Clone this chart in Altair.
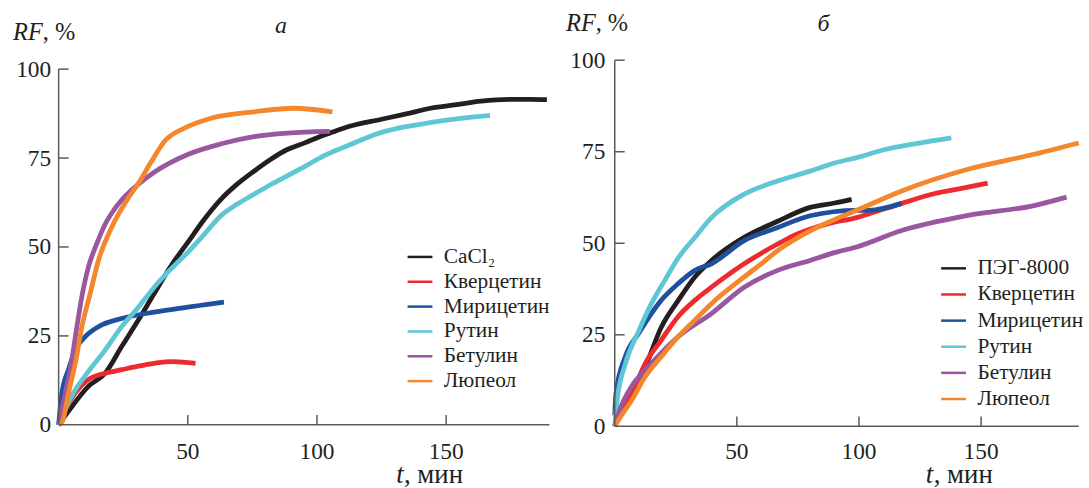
import altair as alt
import pandas as pd

FONT = "Liberation Serif"
TXT = "#231f20"
AXC = "#5a5a5a"

colors = ["#231f20", "#ec2a2f", "#1f4f9f", "#5ec6d5", "#9a56a0", "#f4862b"]

x_ticks = [50, 100, 150]
y_ticks = [0, 25, 50, 75, 100]
y_inner_ticks = [25, 50, 75, 100]

# ---------------- panel а ----------------
a_names = ["CaCl₂", "Кверцетин", "Мирицетин", "Рутин", "Бетулин", "Люпеол"]

a_cacl2_t = [0, 2.5, 5, 11.5, 18, 24.4, 30.8, 37, 43.6, 50, 56.4, 62.8, 69, 75.6, 82, 88.5, 95, 101, 106, 113, 125, 135, 144, 154, 163.5, 175, 183, 189]
a_cacl2_v = [0, 2.5, 5, 10.8, 14.5, 22, 29.4, 36.9, 44.8, 51.3, 57.8, 63.4, 67.6, 71.3, 74.6, 77.4, 79.2, 81, 82.3, 84, 85.9, 87.5, 89, 90, 91, 91.5, 91.5, 91.4]

a_querc_t = [0, 2.6, 6.4, 11.5, 18, 24.4, 30.8, 37, 43.6, 48, 53]
a_querc_v = [0, 4.3, 9, 12.7, 14.5, 15.5, 16.5, 17.3, 17.8, 17.6, 17.3]

a_myric_t = [0, 1.3, 3.8, 6.4, 10.3, 15.4, 24.4, 37, 50, 57, 64]
a_myric_v = [0, 9, 15.5, 21, 24.8, 27.6, 29.9, 31.7, 33.1, 33.8, 34.5]

a_rutin_t = [0, 5, 11.5, 18, 24.4, 30.8, 37, 43.6, 50, 56.4, 62.8, 69, 75.6, 82, 88.5, 95, 101, 113, 122, 131.5, 141, 150.7, 160, 167]
a_rutin_v = [0, 8, 15, 21, 27.6, 33, 38.7, 43.9, 48.5, 53.6, 58.8, 62, 64.8, 67.5, 70, 72.5, 75, 78.8, 81.5, 83.4, 84.6, 85.7, 86.5, 87]

a_betul_t = [0, 2.6, 5.1, 7.05, 9.2, 11.5, 14.7, 18, 21.2, 24.4, 30.8, 37, 50, 63, 75.6, 88.5, 105]
a_betul_v = [0, 9, 18.2, 27.5, 36.9, 44.3, 50.8, 56.4, 60.2, 63.2, 67.6, 71, 76, 79, 81, 82, 82.5]

a_lupeol_t = [0, 1.5, 3.8, 6.7, 9, 12.2, 15.4, 20.5, 26.3, 31.4, 35.9, 41, 48.7, 59, 75.6, 91, 106]
a_lupeol_v = [0, 1, 8.9, 18.2, 27.6, 36.9, 46.2, 55.5, 63, 68.5, 74, 79.7, 83.4, 86.2, 88, 89, 88]

# ---------------- panel б ----------------
b_names = ["ПЭГ-8000", "Кверцетин", "Мирицетин", "Рутин", "Бетулин", "Люпеол"]

b_peg_t = [0, 1.6, 7, 12.5, 19, 26, 32.8, 39.6, 53, 66.7, 80, 90, 97]
b_peg_v = [0, 2.7, 10, 16.3, 27, 34.4, 40.8, 45.3, 51.6, 56, 59.8, 61, 62]

b_querc_t = [0, 1.6, 7, 12.5, 19, 26, 32.8, 39.6, 53, 66.7, 73, 87, 99, 104, 117.5, 131, 142, 152.7]
b_querc_v = [0, 2.7, 9, 17.2, 23.5, 30, 34.4, 38, 44.4, 49.8, 52, 55.3, 57, 58, 60.9, 63.6, 65, 66.4]

b_myric_t = [0, 0.5, 4.3, 9.8, 15, 19, 26, 32.8, 39.6, 53, 66.7, 80, 99, 104, 117.5]
b_myric_v = [3, 9, 19, 25.4, 30.8, 34.4, 39, 42.6, 44.4, 50.7, 54.3, 57.5, 59, 59, 60.9]

b_rutin_t = [0, 0.95, 4.3, 9.8, 15, 20.6, 26, 32.8, 39.6, 53, 66.7, 80, 90.4, 99, 110.7, 124, 137.8]
b_rutin_v = [0, 7, 17, 26, 33.5, 40, 46, 51.6, 57, 63.4, 67, 69.7, 72, 73.4, 75.6, 77.3, 78.8]

b_betul_t = [0, 1.6, 7, 12.5, 19, 26, 39.6, 53, 66.7, 80, 90.4, 99, 117.5, 144.6, 171.7, 185]
b_betul_v = [0, 3.6, 11, 15.4, 20, 24.5, 30.8, 38, 42.6, 45.3, 47.5, 49, 53.5, 57.6, 60.3, 62.6]

b_lupeol_t = [0, 1.6, 7, 12.5, 19, 26, 32.8, 39.6, 53, 60, 66.7, 80, 90.4, 99, 117.5, 144.6, 171.7, 190]
b_lupeol_v = [0, 1.8, 7.2, 13.6, 19, 24.5, 29, 33.5, 40.8, 44.4, 48, 53.4, 56.6, 59, 64.3, 70.2, 74.3, 77.4]


def frame(names, series):
    rows = []
    for name, (ts, vs) in zip(names, series):
        for t, v in zip(ts, vs):
            rows.append({"s": name, "t": t, "v": v})
    return pd.DataFrame(rows)


a_df = frame(a_names, [(a_cacl2_t, a_cacl2_v), (a_querc_t, a_querc_v), (a_myric_t, a_myric_v),
                       (a_rutin_t, a_rutin_v), (a_betul_t, a_betul_v), (a_lupeol_t, a_lupeol_v)])
b_df = frame(b_names, [(b_peg_t, b_peg_v), (b_querc_t, b_querc_v), (b_myric_t, b_myric_v),
                       (b_rutin_t, b_rutin_v), (b_betul_t, b_betul_v), (b_lupeol_t, b_lupeol_v)])

TOP = 58.5
H = 368.5
L_X0 = 58.3
L_W = 494
R_W = 467
SPACING = 65.7
ONE = pd.DataFrame({"k": [0]})


def text_layer(txt, x, y, italic=False, size=24, align="left"):
    return alt.Chart(ONE).mark_text(
        text=txt, font=FONT, fontSize=size, fontStyle="italic" if italic else "normal",
        color=TXT, align=align, baseline="alphabetic"
    ).encode(x=alt.value(x), y=alt.value(y))


def panel(df, names, width, ydom, ylabpad, leg_x, leg_y, row_pad, texts, background=False):
    xs = alt.Scale(domain=[0, 190], nice=False, zero=False)
    ys = alt.Scale(domain=ydom, nice=False, zero=False)
    xax = alt.Axis(values=x_ticks, title=None, domain=False, ticks=False, tickSize=0,
                   grid=False, labels=False)
    yax = alt.Axis(
        values=y_ticks, title=None, domain=False, ticks=False, tickSize=0, grid=False,
        labelFont=FONT, labelFontSize=23.5, labelColor=TXT, labelPadding=ylabpad,
        labelFlush=False, labelOverlap=False, zindex=2)
    lines = alt.Chart(df).mark_line(strokeWidth=4.8, interpolate="monotone").encode(
        x=alt.X("t:Q", scale=xs, axis=xax),
        y=alt.Y("v:Q", scale=ys, axis=yax),
        color=alt.Color("s:N", scale=alt.Scale(domain=names, range=colors), sort=names,
                        legend=alt.Legend(
                            orient="none", legendX=leg_x, legendY=leg_y, title=None,
                            symbolType="stroke", symbolSize=625, symbolStrokeWidth=2.5,
                            labelFont=FONT, labelFontSize=21.5, labelColor=TXT,
                            rowPadding=row_pad, labelOffset=10, padding=0, zindex=2)),
    )
    yaxis = alt.Chart(ONE).mark_rule(color=AXC, strokeWidth=1.5).encode(
        x=alt.X("x0:Q", scale=xs, axis=xax), y=alt.Y("y0:Q", scale=ys, axis=yax),
        y2="y1:Q").transform_calculate(x0="0", y0="0", y1="100")
    xaxis = alt.Chart(ONE).mark_rule(color=AXC, strokeWidth=1.5).encode(
        x=alt.X("x0:Q", scale=xs, axis=xax), x2=alt.value(width),
        y=alt.Y("y0:Q", scale=ys, axis=yax)).transform_calculate(x0="0", y0="0")
    yt = alt.Chart(pd.DataFrame({"v": y_inner_ticks, "z": [0] * len(y_inner_ticks)})).mark_rule(
        color=AXC, strokeWidth=1.5, x2Offset=10).encode(
        x=alt.X("z:Q", scale=xs, axis=xax), x2="z:Q", y=alt.Y("v:Q", scale=ys, axis=yax))
    xtick_df = pd.DataFrame({"t": x_ticks, "z": [0] * len(x_ticks),
                             "lab": [str(v) for v in x_ticks]})
    xt = alt.Chart(xtick_df).mark_rule(
        color=AXC, strokeWidth=1.5, y2Offset=-10).encode(
        x=alt.X("t:Q", scale=xs, axis=xax), y=alt.Y("z:Q", scale=ys, axis=yax), y2="z:Q")
    xlab = alt.Chart(xtick_df).mark_text(
        font=FONT, fontSize=23.5, color=TXT, align="center", baseline="alphabetic").encode(
        x=alt.X("t:Q", scale=xs, axis=xax), y=alt.value(H + 33), text="lab:N")
    layers = []
    if background:
        layers.append(alt.Chart(ONE).mark_rect(color="white").encode(
            x=alt.value(-L_X0), x2=alt.value(1089 - L_X0),
            y=alt.value(-TOP), y2=alt.value(488 - TOP)))
    layers += [lines, yaxis, xaxis, yt, xt, xlab] + texts
    return alt.layer(*layers).properties(width=width, height=H)


left_texts = [
    text_layer("RF", -45.8, -20, italic=True, size=24.5),
    text_layer(", %", -16, -20, size=24.5),
    text_layer("а", 223.7, -27.5, italic=True, align="center"),
    text_layer("t", 339.7, 426, italic=True, size=27),
    text_layer(", мин", 347.5, 426, size=27),
]
right_texts = [
    text_layer("RF", -49, -29, italic=True, size=24.5),
    text_layer(", %", -19.2, -29, size=24.5),
    text_layer("б", 210, -29, italic=True, align="center"),
    text_layer("t", 313, 426, italic=True, size=27),
    text_layer(", мин", 321, 426, size=27),
]

left = panel(a_df, a_names, L_W, [-0.42, 102.51], 8, 349.7, 184, 0, left_texts, background=True)
right = panel(b_df, b_names, R_W, [0, 100], 10, 327, 195.5, 1.3, right_texts)

chart = alt.hconcat(left, right, spacing=SPACING, bounds="flush").resolve_scale(
    color="independent", x="independent", y="independent"
).properties(padding=0).configure_view(stroke=None)

chart.save("out.html", embed_options={"renderer": "svg", "actions": False})
